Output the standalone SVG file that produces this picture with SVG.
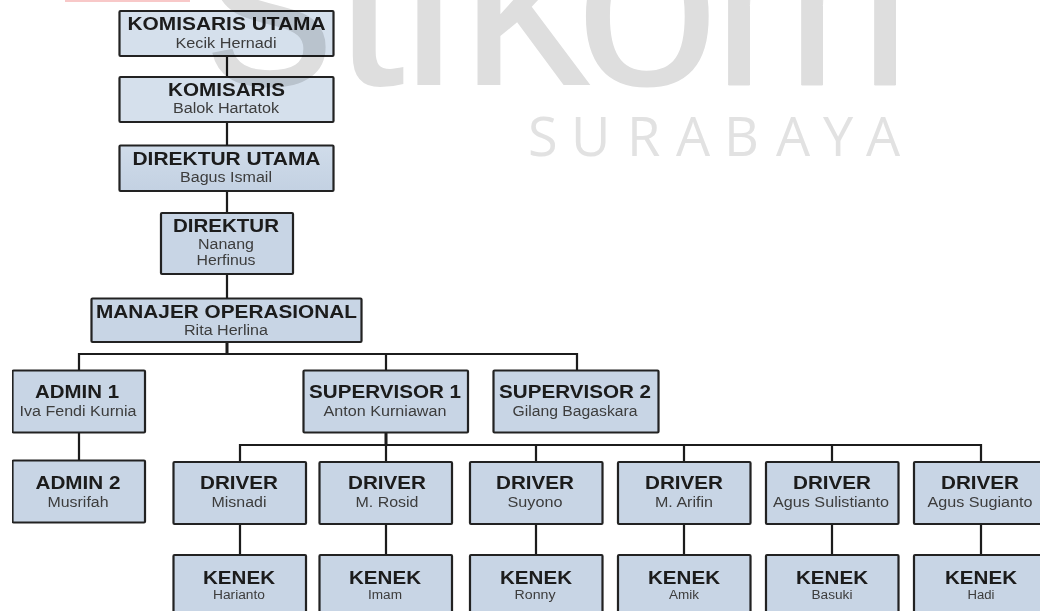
<svg xmlns="http://www.w3.org/2000/svg" width="1040" height="611" viewBox="0 0 1040 611">
<style>
.box{fill:#c8d5e5;stroke:#222;stroke-width:2.2}
.light{fill:#d5e0ec}
.mid{fill:url(#midGrad)}
.t{font-family:"Liberation Sans",Arial,sans-serif;font-weight:700;font-size:18px;fill:#1a1a1a;text-anchor:middle}
.s{font-family:"Liberation Sans",Arial,sans-serif;font-size:14px;fill:#3c3c3c;text-anchor:middle}
.k{font-size:12px}
.c{fill:none;stroke:#1c1c1c;stroke-width:2.200}
.w{fill:#dedede;mix-blend-mode:multiply}
.wl{font-family:"Liberation Sans",Arial,sans-serif;font-size:260px}
.ws{font-family:"Open Sans",sans-serif;font-size:54px;fill:#e2e2e2}
</style>
<defs>
<linearGradient id="midGrad" x1="0" y1="0" x2="0" y2="1"><stop offset="0" stop-color="#d0dcea"/><stop offset="1" stop-color="#c3d1e2"/></linearGradient>
<filter id="soft" x="0" y="0" width="1" height="1" filterUnits="objectBoundingBox"><feGaussianBlur stdDeviation="0.35"/></filter>
</defs>
<rect width="1040" height="611" fill="#fff"/>
<g filter="url(#soft)">
<g id="connectors">
<path class="c" d="M227 56V77M227 122V145M227 191V213M227 274V298M79 370V354H577V370M386 354V370M79 433V460M240 462V445H981V462M536 445V462M684 445V462M832 445V462M240 524V555M386 524V555M536 524V555M684 524V555M832 524V555M981 524V555"/>
<path class="c" style="stroke-width:3" d="M227 342V354M386 433V445"/>
<path class="c" d="M386 445V462"/>
</g>
<g id="komisaris-utama"><rect class="box light" x="119.500" y="11" width="214" height="45" rx="1"/><text class="t" x="226.500" y="30" textLength="198" lengthAdjust="spacingAndGlyphs">KOMISARIS UTAMA</text><text class="s" x="226" y="47.500" textLength="101" lengthAdjust="spacingAndGlyphs">Kecik Hernadi</text></g>
<g id="komisaris"><rect class="box light" x="119.500" y="77" width="214" height="45" rx="1"/><text class="t" x="226.500" y="96" textLength="117" lengthAdjust="spacingAndGlyphs">KOMISARIS</text><text class="s" x="226" y="113" textLength="106" lengthAdjust="spacingAndGlyphs">Balok Hartatok</text></g>
<g id="direktur-utama"><rect class="box mid" x="119.500" y="145.500" width="214" height="45.500" rx="1"/><text class="t" x="226.500" y="165" textLength="188" lengthAdjust="spacingAndGlyphs">DIREKTUR UTAMA</text><text class="s" x="226" y="182" textLength="92" lengthAdjust="spacingAndGlyphs">Bagus Ismail</text></g>
<g id="direktur"><rect class="box" x="161" y="213" width="132" height="61" rx="1"/><text class="t" x="226" y="232" textLength="106" lengthAdjust="spacingAndGlyphs">DIREKTUR</text><text class="s" x="226" y="249" textLength="56" lengthAdjust="spacingAndGlyphs">Nanang</text><text class="s" x="226" y="265" textLength="59" lengthAdjust="spacingAndGlyphs">Herfinus</text></g>
<g id="manajer-operasional"><rect class="box" x="91.500" y="298.500" width="270" height="43.500" rx="1"/><text class="t" x="226.500" y="318" textLength="261" lengthAdjust="spacingAndGlyphs">MANAJER OPERASIONAL</text><text class="s" x="226" y="335" textLength="84" lengthAdjust="spacingAndGlyphs">Rita Herlina</text></g>
<g id="admin-1"><rect class="box" x="12.500" y="370.500" width="132.500" height="62" rx="1"/><text class="t" x="77" y="398" textLength="84" lengthAdjust="spacingAndGlyphs">ADMIN 1</text><text class="s" x="78" y="415.500" textLength="117" lengthAdjust="spacingAndGlyphs">Iva Fendi Kurnia</text></g>
<g id="admin-2"><rect class="box" x="12.500" y="460.500" width="132.500" height="62" rx="1"/><text class="t" x="78" y="489" textLength="85" lengthAdjust="spacingAndGlyphs">ADMIN 2</text><text class="s" x="78" y="507" textLength="61" lengthAdjust="spacingAndGlyphs">Musrifah</text></g>
<g id="supervisor-1"><rect class="box" x="303.500" y="370.500" width="164.500" height="62" rx="1"/><text class="t" x="385" y="398" textLength="152" lengthAdjust="spacingAndGlyphs">SUPERVISOR 1</text><text class="s" x="385" y="415.500" textLength="123" lengthAdjust="spacingAndGlyphs">Anton Kurniawan</text></g>
<g id="supervisor-2"><rect class="box" x="493.500" y="370.500" width="165" height="62" rx="1"/><text class="t" x="575" y="398" textLength="152" lengthAdjust="spacingAndGlyphs">SUPERVISOR 2</text><text class="s" x="575" y="415.500" textLength="125" lengthAdjust="spacingAndGlyphs">Gilang Bagaskara</text></g>
<g id="driver-1"><rect class="box" x="173.500" y="462" width="132.500" height="62" rx="1"/><text class="t" x="239" y="489" textLength="78" lengthAdjust="spacingAndGlyphs">DRIVER</text><text class="s" x="239" y="507" textLength="55" lengthAdjust="spacingAndGlyphs">Misnadi</text></g>
<g id="driver-2"><rect class="box" x="319.500" y="462" width="132.500" height="62" rx="1"/><text class="t" x="387" y="489" textLength="78" lengthAdjust="spacingAndGlyphs">DRIVER</text><text class="s" x="387" y="507" textLength="63" lengthAdjust="spacingAndGlyphs">M. Rosid</text></g>
<g id="driver-3"><rect class="box" x="470" y="462" width="132.500" height="62" rx="1"/><text class="t" x="535" y="489" textLength="78" lengthAdjust="spacingAndGlyphs">DRIVER</text><text class="s" x="535" y="507" textLength="55" lengthAdjust="spacingAndGlyphs">Suyono</text></g>
<g id="driver-4"><rect class="box" x="618" y="462" width="132.500" height="62" rx="1"/><text class="t" x="684" y="489" textLength="78" lengthAdjust="spacingAndGlyphs">DRIVER</text><text class="s" x="684" y="507" textLength="58" lengthAdjust="spacingAndGlyphs">M. Arifin</text></g>
<g id="driver-5"><rect class="box" x="766" y="462" width="132.500" height="62" rx="1"/><text class="t" x="832" y="489" textLength="78" lengthAdjust="spacingAndGlyphs">DRIVER</text><text class="s" x="831" y="507" textLength="116" lengthAdjust="spacingAndGlyphs">Agus Sulistianto</text></g>
<g id="driver-6"><rect class="box" x="914" y="462" width="134" height="62" rx="1"/><text class="t" x="980" y="489" textLength="78" lengthAdjust="spacingAndGlyphs">DRIVER</text><text class="s" x="980" y="507" textLength="105" lengthAdjust="spacingAndGlyphs">Agus Sugianto</text></g>
<g id="kenek-1"><rect class="box" x="173.500" y="555" width="132.500" height="64" rx="1"/><text class="t" x="239" y="584" textLength="72" lengthAdjust="spacingAndGlyphs">KENEK</text><text class="s k" x="239" y="599" textLength="52" lengthAdjust="spacingAndGlyphs">Harianto</text></g>
<g id="kenek-2"><rect class="box" x="319.500" y="555" width="132.500" height="64" rx="1"/><text class="t" x="385" y="584" textLength="72" lengthAdjust="spacingAndGlyphs">KENEK</text><text class="s k" x="385" y="599" textLength="34" lengthAdjust="spacingAndGlyphs">Imam</text></g>
<g id="kenek-3"><rect class="box" x="470" y="555" width="132.500" height="64" rx="1"/><text class="t" x="536" y="584" textLength="72" lengthAdjust="spacingAndGlyphs">KENEK</text><text class="s k" x="535" y="599" textLength="41" lengthAdjust="spacingAndGlyphs">Ronny</text></g>
<g id="kenek-4"><rect class="box" x="618" y="555" width="132.500" height="64" rx="1"/><text class="t" x="684" y="584" textLength="72" lengthAdjust="spacingAndGlyphs">KENEK</text><text class="s k" x="684" y="599" textLength="30" lengthAdjust="spacingAndGlyphs">Amik</text></g>
<g id="kenek-5"><rect class="box" x="766" y="555" width="132.500" height="64" rx="1"/><text class="t" x="832" y="584" textLength="72" lengthAdjust="spacingAndGlyphs">KENEK</text><text class="s k" x="832" y="599" textLength="41" lengthAdjust="spacingAndGlyphs">Basuki</text></g>
<g id="kenek-6"><rect class="box" x="914" y="555" width="134" height="64" rx="1"/><text class="t" x="981" y="584" textLength="72" lengthAdjust="spacingAndGlyphs">KENEK</text><text class="s k" x="981" y="599" textLength="27" lengthAdjust="spacingAndGlyphs">Hadi</text></g>
<g id="watermark">
<rect x="65" y="0" width="125" height="2" fill="#f8c8c8"/>
<text class="w wl" x="205 333 400 460 575" y="85">stiko</text>
<text class="w wl" transform="translate(712 85) scale(0.92 1)" stroke="#dedede" stroke-width="1">m</text>
<text class="ws" x="528 571 627 676 724 776 823 866" y="156">SURABAYA</text>
</g>
</g>
</svg>
